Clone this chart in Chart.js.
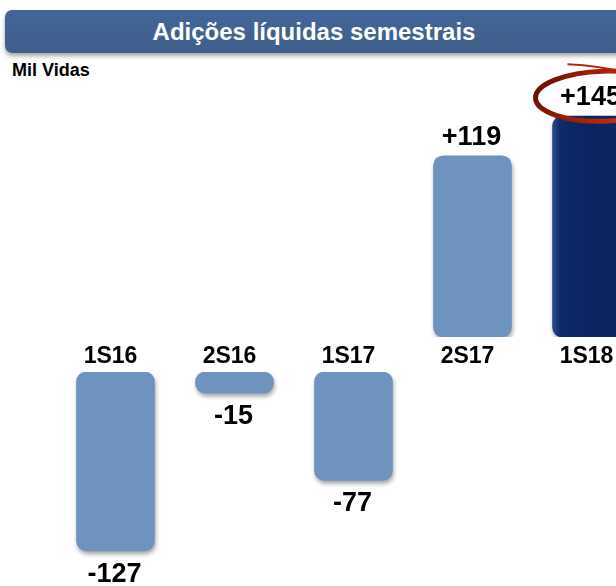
<!DOCTYPE html>
<html>
<head>
<meta charset="utf-8">
<script src="https://cdn.jsdelivr.net/npm/chart.js@4"></script>
<style>
  html, body { margin: 0; padding: 0; width: 616px; height: 586px; overflow: hidden; background: #fff; font-family: "Liberation Sans", Arial, sans-serif; }
  #banner { position: absolute; left: 5px; top: 10px; width: 618px; height: 43px; border-radius: 7px;
    background: linear-gradient(#44659a, #3e5e8a); box-shadow: 0 3px 4px rgba(0,0,0,0.35);
    color: #fff; font-weight: bold; font-size: 24px; line-height: 43px; text-align: center; }
  #unit { position: absolute; left: 12px; top: 60px; font-weight: bold; font-size: 18px; color: #000; }
  canvas { position: absolute; left: 56px; }
  #pos { top: 40px; }
  #neg { top: 337px; }
</style>
</head>
<body>
<div id="banner">Adições líquidas semestrais</div>
<div id="unit">Mil Vidas</div>
<canvas id="pos" width="595" height="297"></canvas>
<canvas id="neg" width="595" height="249"></canvas>
<script>
const categories = ['1S16', '2S16', '1S17', '2S17', '1S18'];
const netAdds = [-127, -15, -77, 119, 145];
const valueLabels = ['-127', '-15', '-77', '+119', '+145'];
const highlightIndex = 4;

const LIGHT = '#6e93bf';
const FONT = '"Liberation Sans", Arial, sans-serif';

const posData = netAdds.map(v => v > 0 ? v : null);
const negData = netAdds.map(v => v < 0 ? v : null);

function barColor(c) {
  if (c.dataIndex !== highlightIndex) return LIGHT;
  const chart = c.chart;
  if (!chart.scales || !chart.scales.x) return '#0b2461';
  const x = chart.scales.x.getPixelForValue(highlightIndex);
  const g = chart.ctx.createLinearGradient(x - 39, 0, x + 39, 0);
  g.addColorStop(0, '#2b4b8c');
  g.addColorStop(0.1, '#0e2a68');
  g.addColorStop(0.5, '#0a2461');
  g.addColorStop(0.9, '#0c2764');
  g.addColorStop(1, '#23417f');
  return g;
}

const shadowPlugin = {
  id: 'shadow',
  beforeDatasetsDraw(chart) {
    const ctx = chart.ctx;
    ctx.save();
    ctx.shadowColor = 'rgba(0,0,0,0.35)';
    ctx.shadowBlur = 4;
    ctx.shadowOffsetX = 1;
    ctx.shadowOffsetY = 3;
  },
  afterDatasetsDraw(chart) { chart.ctx.restore(); }
};

const labelPlugin = {
  id: 'vlabels',
  afterDatasetsDraw(chart, args, opts) {
    const ctx = chart.ctx;
    const meta = chart.getDatasetMeta(0);
    ctx.save();
    ctx.fillStyle = '#000';
    ctx.font = 'bold 27px ' + FONT;
    ctx.textAlign = 'center';
    ctx.textBaseline = 'alphabetic';
    meta.data.forEach((bar, i) => {
      const v = chart.data.datasets[0].data[i];
      if (v === null || v === undefined) return;
      const y = v > 0 ? bar.y - 11 : bar.y + 31;
      ctx.fillText(valueLabels[i], bar.x - 1, y);
      if (opts.ring && i === highlightIndex) {
        const cx = bar.x + 12, cy = y - 9;
        const g = ctx.createLinearGradient(cx - 64, cy - 20, cx + 40, cy + 26);
        g.addColorStop(0, '#6e1000');
        g.addColorStop(0.5, '#a82008');
        g.addColorStop(1, '#d9380f');
        ctx.strokeStyle = g;
        ctx.lineWidth = 5;
        ctx.beginPath();
        ctx.ellipse(cx, cy, 68, 25, -0.03, 0, Math.PI * 2);
        ctx.stroke();
        ctx.lineWidth = 2;
        ctx.strokeStyle = '#b52a0c';
        ctx.beginPath();
        ctx.moveTo(cx - 36, cy - 32);
        ctx.quadraticCurveTo(cx - 5, cy - 31, cx + 30, cy - 22);
        ctx.stroke();
      }
    });
    if (opts.categories) {
      ctx.font = 'bold 23px ' + FONT;
      categories.forEach((c, i) => {
        ctx.fillText(c, chart.scales.x.getPixelForValue(i) - 5, chart.chartArea.top - 9);
      });
    }
    ctx.restore();
  }
};

function makeChart(id, data, yMin, yMax, padTop, pluginOpts) {
  return new Chart(document.getElementById(id), {
    type: 'bar',
    data: {
      labels: categories,
      datasets: [{
        data: data,
        backgroundColor: barColor,
        borderWidth: 0,
        borderRadius: 10,
        borderSkipped: false,
        barThickness: 78
      }]
    },
    options: {
      responsive: false,
      animation: false,
      devicePixelRatio: 1,
      layout: { padding: { top: padTop, bottom: 0, left: 0, right: 0 } },
      plugins: { legend: { display: false }, tooltip: { enabled: false }, vlabels: pluginOpts },
      scales: {
        x: { display: false, offset: true },
        y: { display: false, min: yMin, max: yMax }
      }
    },
    plugins: [shadowPlugin, labelPlugin]
  });
}

makeChart('pos', posData, 0, 195, 0, { ring: true, categories: false });
makeChart('neg', negData, -152, 0, 35, { ring: false, categories: true });
</script>
</body>
</html>
